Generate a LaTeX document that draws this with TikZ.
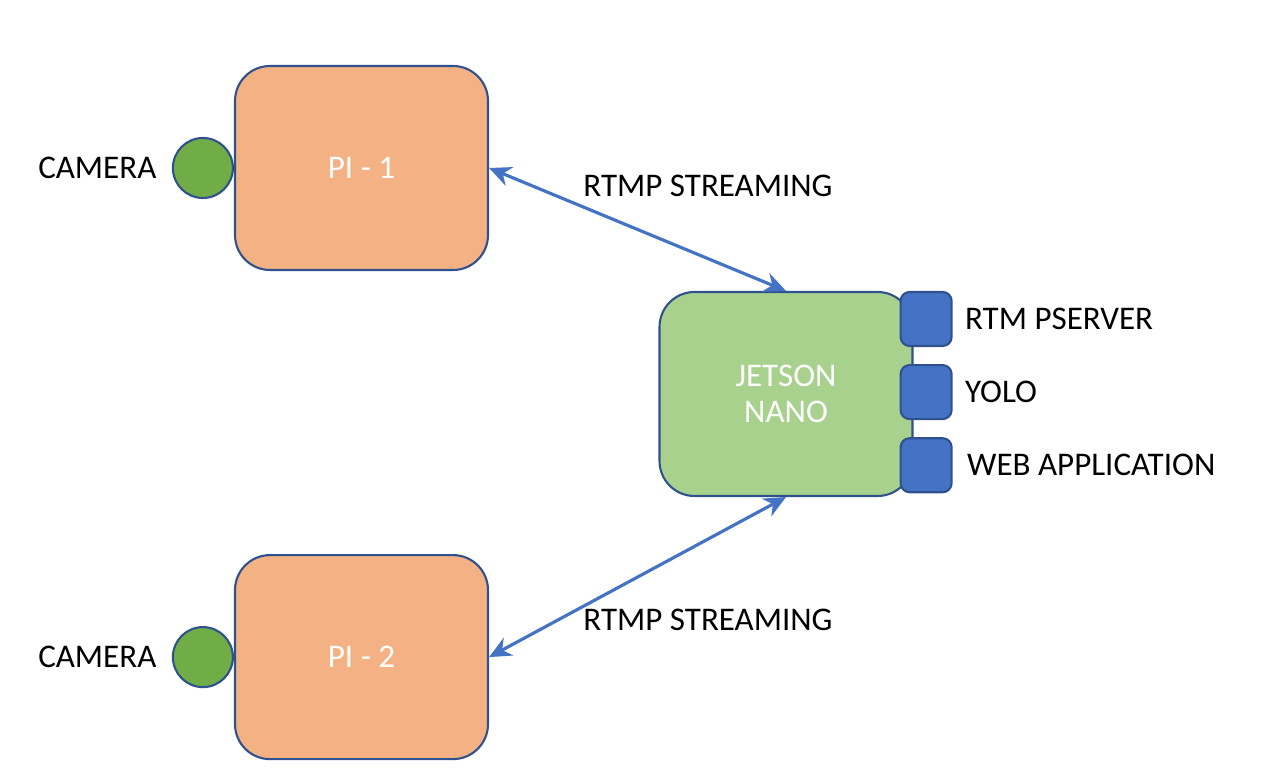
\documentclass[tikz,border=0pt]{standalone}
\usepackage{fontspec}
\setmainfont{Carlito}
\usetikzlibrary{positioning}
\usetikzlibrary{arrows.meta}

\definecolor{piorange}{HTML}{F4B183}
\definecolor{nanogreen}{HTML}{A9D18E}
\definecolor{camgreen}{HTML}{70AD47}
\definecolor{srvblue}{HTML}{4472C4}
\definecolor{edgeblue}{HTML}{2F528F}

\begin{document}
\begin{tikzpicture}[font=\fontsize{9.4}{10.3}\selectfont,
  board/.style={draw=edgeblue,line width=0.6pt,rounded corners=3.5mm,minimum width=2.53cm,minimum height=2.04cm,text=white,align=center},
  cam/.style={draw=edgeblue,line width=0.6pt,circle,fill=camgreen,minimum size=0.6cm,inner sep=0pt},
  srv/.style={draw=edgeblue,line width=0.6pt,rounded corners=0.9mm,fill=srvblue,minimum width=0.51cm,minimum height=0.54cm,inner sep=0pt},
  stream/.style={{Stealth[length=2.2mm,width=2mm]}-{Stealth[length=2.2mm,width=2mm]},srvblue,line width=0.9pt}]
\useasboundingbox (0,0) rectangle (12.8,7.83);
\node[board,fill=piorange](pi1) at (3.615,6.15){PI - 1};
\node[board,fill=piorange,below = 2.83cm of pi1](pi2){PI - 2};
\node[board,fill=nanogreen](nano) at (7.86,3.89){JETSON\\NANO};
\node[cam,left = 0cm of pi1](cam1){};
\node[cam,left = 0cm of pi2](cam2){};
\node[left = 0.3mm of cam1](camlbl1){CAMERA};
\node[left = 0.3mm of cam2](camlbl2){CAMERA};
\node[srv,anchor=north west](rtmp) at ([xshift=-1.4mm]nano.north east){};
\node[srv,below = 0.17cm of rtmp](yolo){};
\node[srv,below = 0.17cm of yolo](web){};
\node[right = 0mm of rtmp](rtmplbl){RTM PSERVER};
\node[right = 0mm of yolo](yololbl){YOLO};
\node[right = 0.2mm of web](weblbl){WEB APPLICATION};
\node(strlbl1) at (7.08,5.97){RTMP STREAMING};
\node(strlbl2) at (7.08,1.63){RTMP STREAMING};
\path (pi1.east) edge[stream] (nano.north);
\path (nano.south) edge[stream] (pi2.east);
\end{tikzpicture}
\end{document}
